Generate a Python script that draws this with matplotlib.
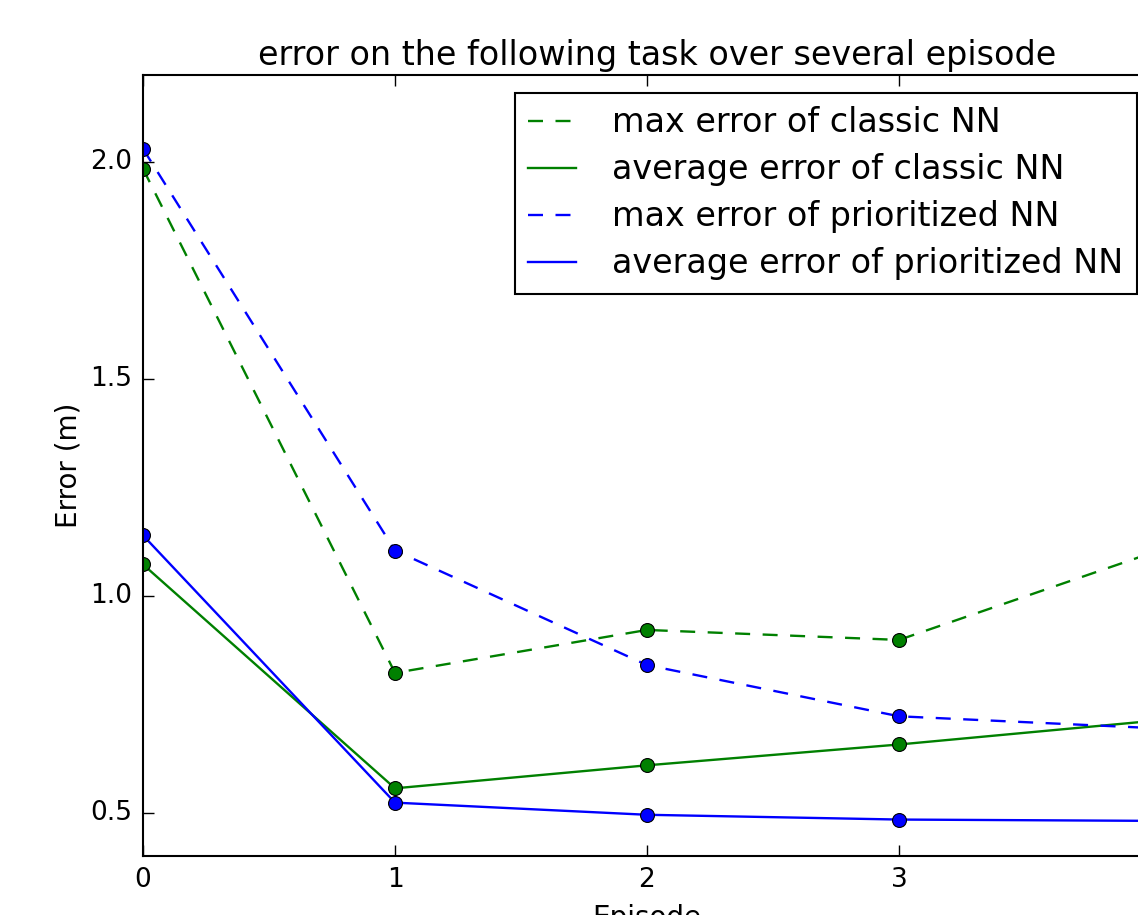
import matplotlib
matplotlib.use('Agg')
import matplotlib.pyplot as plt

# episodes and errors
episodes = [0, 1, 2, 3, 4]
max_classic = [1.984, 0.822, 0.921, 0.898, 1.098]
avg_classic = [1.072, 0.556, 0.609, 0.657, 0.711]
max_prior = [2.030, 1.104, 0.840, 0.722, 0.695]
avg_prior = [1.139, 0.523, 0.495, 0.484, 0.481]

labels = ['max error of classic NN', 'average error of classic NN',
          'max error of prioritized NN', 'average error of prioritized NN']

plt.style.use('classic')
plt.rcParams['font.family'] = ['DejaVu Sans']

fig = plt.figure(figsize=(11.38, 9.15), dpi=100, facecolor='white')
# axes runs a little past the right edge, like the cropped reference
ax = fig.add_axes([143 / 1138, 59 / 915, 1008 / 1138, 781 / 915])

dash = [10.8, 9.0]  # classic style does not scale dashes with lw
mk = dict(marker='o', markersize=10, markeredgecolor='k', markeredgewidth=0.8)
ax.plot(episodes, max_classic, color='g', linestyle='--', dashes=dash, lw=1.7, label=labels[0], **mk)
ax.plot(episodes, avg_classic, color='g', linestyle='-', lw=1.7, label=labels[1], **mk)
ax.plot(episodes, max_prior, color='b', linestyle='--', dashes=dash, lw=1.7, label=labels[2], **mk)
ax.plot(episodes, avg_prior, color='b', linestyle='-', lw=1.7, label=labels[3], **mk)

ax.set_xlim(0, 4)
ax.set_ylim(0.4, 2.2)
ax.set_xticks([0, 1, 2, 3, 4])
ax.set_yticks([0.5, 1.0, 1.5, 2.0])
ax.tick_params(labelsize=19, length=8, width=1, pad=8)
for s in ax.spines.values():
    s.set_linewidth(1.5)

ax.set_title('error on the following task over several episode', fontsize=24, x=0.51, y=1.004)
ax.set_xlabel('Episode', fontsize=20, labelpad=8)
ax.set_ylabel('Error (m)', fontsize=20, labelpad=5)

leg = ax.legend(loc='upper right', bbox_to_anchor=(0.986, 0.977), borderaxespad=0,
                fontsize=24, handlelength=1.45, handletextpad=1.08,
                borderpad=0.4, labelspacing=0.42, numpoints=1)
leg.get_frame().set_linewidth(1.5)
for h in leg.get_lines():
    h.set_marker('')

fig.savefig('out.png', dpi=100, facecolor='white')
